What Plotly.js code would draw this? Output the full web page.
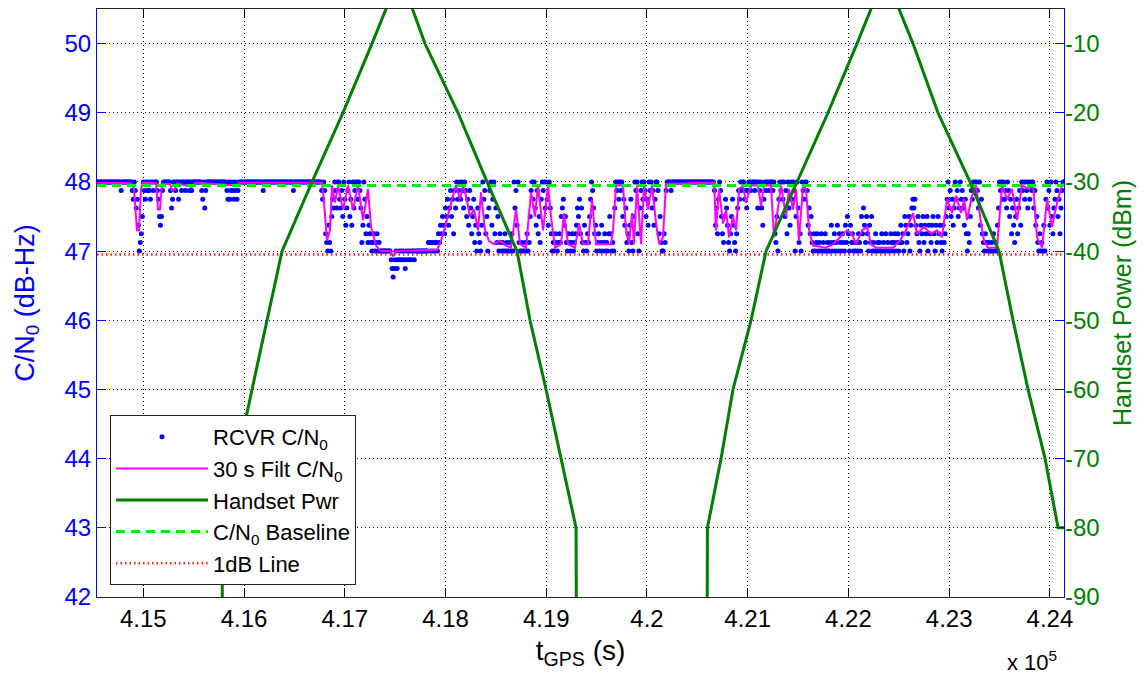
<!DOCTYPE html>
<html>
<head>
<meta charset="utf-8">
<script src="https://cdn.plot.ly/plotly-3.0.1.min.js"></script>
<style>
  html, body { margin: 0; padding: 0; background: #ffffff; }
  #chart { width: 1148px; height: 679px; }
</style>
</head>
<body>
<div id="chart"></div>
<script>
// ---------------- data ----------------
// Receiver C/N0 samples, one every 10 s starting at t = 414540 s.
// Receiver reports C/N0 in 1/8 dB steps; values below are eighths of a dB above 47 dB-Hz.
const rcvrStartTime = 414540;
const rcvrStep = 10;
const rcvrEighths = [
  8,8,8,8,8,8,8,8,8,8,8,8,8,8,8,8,8,8,8,8,8,8,8,8,7,8,8,8,8,8,
  8,8,8,8,8,7,6,8,7,5,6,3,0,1,2,4,8,7,6,8,7,8,7,6,8,8,7,8,8,8,
  7,6,4,3,4,7,8,8,8,8,8,8,8,7,5,6,8,8,7,8,8,6,8,8,7,8,8,8,7,8,
  8,8,7,8,7,8,8,8,8,8,8,8,8,8,7,6,8,5,7,8,8,8,8,8,8,8,8,8,8,8,
  8,8,8,8,8,8,8,8,8,7,6,8,6,7,8,7,6,8,7,6,7,8,8,8,8,8,8,8,8,8,
  8,8,8,8,8,8,8,8,8,8,8,8,8,8,8,7,8,8,8,8,8,8,8,8,8,8,8,8,8,8,
  8,8,8,8,8,8,8,8,8,8,8,8,8,8,8,7,8,8,8,8,8,8,8,8,8,8,8,8,8,8,
  8,8,8,8,8,8,8,8,8,8,8,8,8,7,6,8,7,2,1,0,3,1,0,4,6,5,8,7,5,8,
  8,6,5,7,4,8,6,3,5,7,8,4,6,3,8,5,7,8,8,6,8,7,5,1,3,8,6,2,4,1,
  3,2,1,0,1,2,0,1,2,0,1,0,0,0,0,0,0,0,0,0,0,0,-1,-2,-3,-2,-1,0,-2,-1,
  0,-1,0,-1,0,-1,-2,0,-1,0,-1,0,-1,0,0,-1,0,0,0,0,0,0,0,0,0,0,0,0,0,1,
  1,0,1,0,1,0,1,1,0,2,1,3,2,4,3,2,5,4,6,3,5,7,4,6,2,7,5,8,6,7,
  8,6,8,7,5,8,7,4,6,3,7,5,2,4,6,1,3,0,5,2,1,0,3,8,6,7,2,4,0,5,
  7,8,3,6,8,2,5,1,4,0,2,1,0,1,0,2,0,1,0,0,1,0,2,0,8,5,7,3,8,1,
  0,0,1,0,0,1,0,2,0,1,4,7,8,6,8,5,3,7,2,4,1,6,8,7,8,5,8,6,3,8,
  5,2,0,1,0,2,1,0,1,2,1,4,5,6,3,4,1,0,2,1,0,1,2,0,1,2,3,5,4,6,
  2,5,1,0,3,1,0,2,1,4,6,8,7,5,2,3,0,1,2,0,1,3,0,1,2,0,1,0,2,4,
  2,0,1,0,5,8,7,8,6,8,7,8,4,6,3,5,1,2,0,3,6,1,0,4,8,7,8,2,0,5,
  7,8,6,8,7,4,6,3,8,7,8,5,7,3,6,8,8,7,2,4,1,0,0,2,1,7,8,8,8,8,
  7,8,8,8,8,8,8,8,8,8,8,8,8,8,8,8,8,8,8,8,8,8,8,8,8,8,8,8,8,8,
  8,8,8,8,8,8,8,8,8,8,8,8,8,7,3,5,2,6,8,7,4,2,1,4,6,5,3,1,0,2,
  4,6,3,1,0,2,5,7,6,8,7,8,8,6,7,5,7,8,8,7,8,8,8,7,8,8,5,8,7,8,
  5,3,6,8,7,8,8,7,8,8,8,7,8,2,1,4,0,6,8,7,8,6,8,4,7,2,8,5,3,8,
  6,8,7,0,4,8,5,1,2,0,8,7,6,8,8,7,3,5,2,4,1,0,2,0,1,2,0,1,0,2,
  0,1,0,2,0,1,0,0,1,3,0,1,2,0,1,3,0,2,1,0,2,1,0,3,1,4,2,0,3,1,
  2,0,1,0,1,0,2,1,0,4,2,5,3,1,4,2,0,3,1,4,0,1,0,2,0,1,0,1,0,2,
  0,1,0,2,0,1,0,0,2,1,0,1,2,0,1,2,0,1,3,1,2,0,4,3,1,2,4,0,3,5,
  6,5,6,3,2,4,1,0,3,2,4,1,3,2,4,0,3,2,1,3,4,2,0,3,1,4,2,3,1,0,
  3,1,2,4,6,8,5,7,4,6,3,5,8,6,7,4,5,8,6,7,5,3,6,2,0,2,1,4,7,6,
  8,7,8,8,7,5,8,3,6,2,1,0,2,1,0,1,0,0,1,0,2,0,1,0,3,5,8,7,8,6,
  8,6,7,5,8,7,4,6,2,5,3,1,4,6,2,5,7,3,8,7,8,6,8,7,5,8,6,8,7,8,
  5,7,3,4,1,0,2,0,1,0,3,0,6,8,5,7,3,8,4,2,5,6,8,7,4,6,2,5,7,8,
  8
];

// 30 s filtered C/N0 (dB-Hz), read at its turning points
const filtTime = [
  414540,414878,414907,414937,414957,414977,414997,415126,415146,415165,415185,415265,415285,415314,415334,
  415414,415483,415523,415920,415960,416774,416794,416823,416853,416873,416903,416933,416982,417032,417082,
  417131,417181,417230,417260,417310,417360,417449,417479,417508,417916,417955,417995,418035,418074,418104,
  418144,418174,418203,418243,418283,418323,418352,418392,418432,418481,418541,418601,418650,418700,418740,
  418799,418849,418888,418918,418968,419018,419047,419087,419147,419176,419216,419286,419325,419365,419415,
  419454,419494,419643,419663,419693,419762,419792,419822,419851,419871,419901,419941,419971,420010,420050,
  420090,420120,420159,420189,420666,420685,420715,420755,420785,420814,420854,420884,420914,420953,420983,
  421033,421102,421132,421162,421231,421261,421301,421331,421380,421410,421450,421480,421509,421549,421579,
  421609,421648,421778,421847,421917,421986,422036,422075,422135,422185,422224,422274,422443,422512,422572,
  422641,422681,422750,422820,422880,422929,422979,423028,423068,423118,423148,423177,423227,423267,423316,
  423346,423386,423475,423525,423574,423624,423674,423723,423783,423833,423872,423922,423972,424021,424071,
  424120,424140
];
const filtCN = [
  47.99,47.98,47.9,47.3,47.3,47.9,47.99,47.98,47.6,47.6,47.97,47.97,47.88,47.9,47.98,
  47.95,47.93,47.99,47.95,47.99,47.99,47.7,47.15,47.3,47.95,47.7,47.95,47.6,47.95,47.6,
  47.95,47.45,47.9,47.35,47.08,47.0,47.0,46.93,47.0,47.02,47.15,47.35,47.6,47.8,47.95,
  47.75,47.95,47.8,47.5,47.6,47.3,47.85,47.3,47.15,47.1,47.15,47.08,47.05,47.6,47.1,
  47.05,47.85,47.5,47.95,47.3,47.95,47.5,47.05,47.1,47.55,47.1,47.05,47.4,47.1,47.1,
  47.75,47.1,47.1,47.3,47.95,47.95,47.3,47.1,47.55,47.1,47.95,47.1,47.95,47.6,47.95,
  47.4,47.1,47.2,47.97,47.99,47.3,47.9,47.4,47.6,47.2,47.5,47.3,47.9,47.95,47.7,
  47.95,47.95,47.65,47.95,47.95,47.2,47.6,47.95,47.5,47.9,47.6,47.9,47.15,47.95,47.9,
  47.3,47.08,47.05,47.1,47.2,47.3,47.25,47.1,47.3,47.35,47.1,47.05,47.05,47.15,47.3,
  47.55,47.25,47.35,47.25,47.3,47.2,47.75,47.55,47.8,47.55,47.75,47.45,47.8,47.95,47.4,
  47.15,47.05,47.05,47.95,47.75,47.9,47.45,47.95,47.9,47.95,47.2,47.05,47.75,47.35,47.7,
  47.95,47.98
];

// Handset transmit power (dBm); -100 marks the handset switched off (below the axis)
const handsetTime = [
  415781,415786,416079,416228,416377,416675,416982,417270,417548,417796,418124,418412,418710,
  418839,418998,419147,419296,419300,420596,420600,420735,420854,421033,421182,421490,421797,
  422085,422363,422641,422889,423207,423495,423634,423783,423952,424081,424140
];
const handsetPwr = [
  -100,-80,-60,-50,-40,-30,-20,-10,0,-10,-20,-30,-40,
  -50,-60,-70,-80,-100,-100,-80,-70,-60,-50,-40,-30,-20,
  -10,0,-10,-20,-30,-40,-50,-60,-70,-80,-80
];

// Reference levels (dB-Hz)
const lineTime = [414540, 424140];
const baselineCN = [47.95, 47.95];
const oneDbCN = [46.95, 46.95];

// Axis ticks
const xTickVals = [415000,416000,417000,418000,419000,420000,421000,422000,423000,424000];
const xTickText = ['4.15','4.16','4.17','4.18','4.19','4.2','4.21','4.22','4.23','4.24'];
const yTickVals = [42,43,44,45,46,47,48,49,50];
const y2TickVals = [-90,-80,-70,-60,-50,-40,-30,-20,-10];
const y2TickText = ['-90','-80','-70','-60','-50','-40','-30','-20','-10'];

// ---------------- build traces ----------------
const rcvrTime = rcvrEighths.map((_, i) => rcvrStartTime + i * rcvrStep);
const rcvrCN = rcvrEighths.map(q => 47 + q / 8);

const FONT = 'Liberation Sans, Arial, Helvetica, sans-serif';
const GREEN = '#007f00';

const traces = [
  {
    x: rcvrTime, y: rcvrCN, type: 'scatter', mode: 'markers',
    name: 'RCVR C/N<sub>0</sub>',
    marker: { color: '#0000ff', size: 5 },
    hoverinfo: 'skip'
  },
  {
    x: filtTime, y: filtCN, type: 'scatter', mode: 'lines',
    name: '30 s Filt C/N<sub>0</sub>',
    line: { color: '#ff00ff', width: 2 },
    hoverinfo: 'skip'
  },
  {
    x: handsetTime, y: handsetPwr, type: 'scatter', mode: 'lines', yaxis: 'y2',
    name: 'Handset Pwr',
    line: { color: GREEN, width: 3 },
    hoverinfo: 'skip'
  },
  {
    x: lineTime, y: baselineCN, type: 'scatter', mode: 'lines',
    name: 'C/N<sub>0</sub> Baseline',
    line: { color: '#00ee00', width: 3, dash: '9px,6px' },
    hoverinfo: 'skip'
  },
  {
    x: lineTime, y: oneDbCN, type: 'scatter', mode: 'lines',
    name: '1dB Line',
    line: { color: '#ff2020', width: 2.5, dash: '1.5px,3px' },
    hoverinfo: 'skip'
  }
];

const layout = {
  width: 1148, height: 679,
  margin: { l: 97, r: 84, t: 9, b: 82, pad: 0 },
  paper_bgcolor: '#ffffff', plot_bgcolor: '#ffffff',
  font: { family: FONT, size: 24, color: '#000000' },
  showlegend: true,
  legend: {
    x: 13 / 967, y: 12 / 588, xanchor: 'left', yanchor: 'bottom',
    bgcolor: '#ffffff', bordercolor: '#222222', borderwidth: 1,
    font: { family: FONT, size: 22, color: '#000000' },
    itemwidth: 92, tracegroupgap: 0
  },
  xaxis: {
    range: [414540, 424140], tickmode: 'array', tickvals: xTickVals, ticktext: xTickText,
    ticks: 'inside', ticklen: 9, tickwidth: 1, tickcolor: '#000000',
    showline: true, linecolor: '#222222', linewidth: 1, mirror: 'ticks',
    showgrid: true, gridcolor: '#000000', gridwidth: 1, griddash: '1px,3px',
    zeroline: false, tickfont: { family: FONT, size: 24, color: '#000000' },
    title: { text: 't<sub>GPS</sub> (s)', font: { family: FONT, size: 28, color: '#000000' }, standoff: 9 },
    automargin: false
  },
  yaxis: {
    range: [42, 50.5], tickmode: 'array', tickvals: yTickVals,
    ticks: 'inside', ticklen: 9, tickwidth: 1, tickcolor: '#0000ff',
    showline: true, linecolor: '#0000ff', linewidth: 1, mirror: 'ticks',
    showgrid: true, gridcolor: '#0000ff', gridwidth: 1, griddash: '1px,3px',
    zeroline: false, tickfont: { family: FONT, size: 24, color: '#0000ff' },
    title: { text: 'C/N<sub>0</sub> (dB-Hz)', font: { family: FONT, size: 27, color: '#0000ff' }, standoff: 22 },
    automargin: false
  },
  yaxis2: {
    overlaying: 'y', side: 'right',
    range: [-90, -5], tickmode: 'array', tickvals: y2TickVals, ticktext: y2TickText,
    ticks: '', showline: false, showgrid: false, zeroline: false,
    tickfont: { family: FONT, size: 24, color: GREEN },
    title: { text: 'Handset Power (dBm)', font: { family: FONT, size: 25, color: GREEN }, standoff: 14 },
    automargin: false
  },
  annotations: [
    {
      xref: 'paper', yref: 'paper', x: (1005 - 97) / 967, y: (597 - 645) / 588,
      xanchor: 'left', yanchor: 'top', showarrow: false,
      text: 'x 10<sup>5</sup>', font: { family: FONT, size: 22, color: '#000000' }
    }
  ]
};

Plotly.newPlot('chart', traces, layout, { displayModeBar: false, staticPlot: true });
</script>
</body>
</html>
